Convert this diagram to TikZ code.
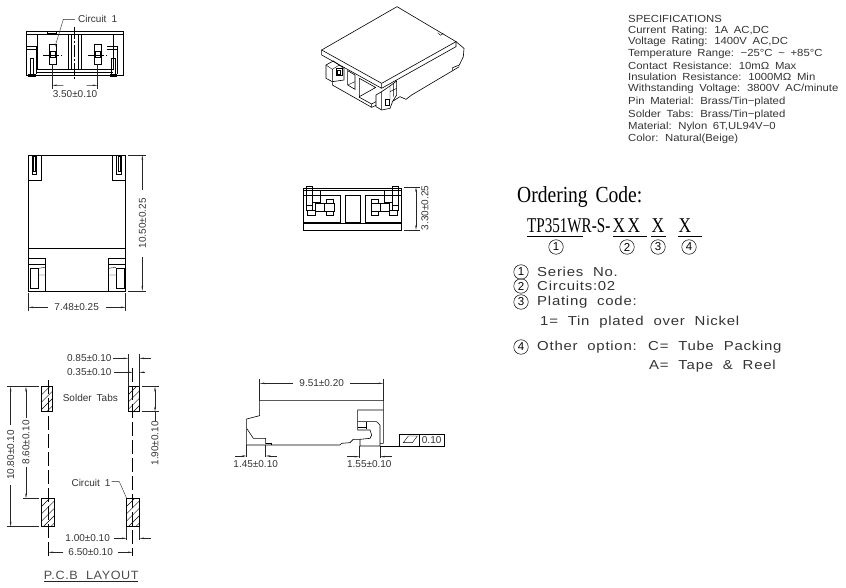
\documentclass[tikz,border=0pt]{standalone}
\usepackage{fontspec}
\usetikzlibrary{arrows.meta}
\setmainfont{Liberation Sans}[WordSpace=1.8]
\newfontfamily\cadfont{Liberation Sans}[WordSpace=2,LetterSpace=5]
\newfontfamily\ordfont{Liberation Serif}[WordSpace=1.6]
\colorlet{ink}{black!80}
\def\speclist{{31/{Current Rating: 1A AC,DC}}, {42/{Voltage Rating: 1400V AC,DC}}, {54/{Temperature Range: −25°C \textasciitilde{} +85°C}}, {66/{Contact Resistance: 10mΩ Max}}, {77/{Insulation Resistance: 1000MΩ Min}}, {89/{Withstanding Voltage: 3800V AC/minute}}, {102/{Pin Material: Brass/Tin−plated}}, {115/{Solder Tabs: Brass/Tin−plated}}, {127/{Material: Nylon 6T,UL94V−0}}, {139/{Color: Natural(Beige)}}}
\def\ballsA{{(556,247)/1}, {(627,247)/2}, {(658,247)/3}, {(689,247)/4}}
\def\notelist{{272/1/Series No.}, {286/2/Circuits:02}, {302/3/Plating code:}, {347/4/Other option: C= Tube Packing}}
\tikzstyle{part} = [draw=black, line width=0.6pt, line join=miter]
\tikzstyle{thin part} = [draw=black, line width=0.4pt]
\tikzstyle{axis} = [draw=black, line width=0.4pt, dash pattern=on 12pt off 2pt on 2pt off 2pt]
\tikzstyle{center dash} = [draw=black, line width=0.5pt, dash pattern=on 14pt off 4pt]
\tikzstyle{extn} = [draw=black!85, line width=0.4pt]
\tikzstyle{dimline} = [draw=black!85, line width=0.4pt, -{Stealth[length=5pt,width=1.6pt]}]
\tikzstyle{dimtext} = [inner sep=0pt, text=ink, font=\fontsize{10}{10}\selectfont]
\tikzstyle{spectext} = [inner sep=0pt, anchor=west, text=ink, xscale=1.1, font=\fontsize{10.3}{10}\selectfont]
\tikzstyle{notetext} = [inner sep=0pt, anchor=west, text=ink, xscale=1.15, font=\cadfont\fontsize{13}{13}\selectfont]
\tikzstyle{ordertext} = [inner sep=0pt, anchor=base west, text=black, font=\ordfont\fontsize{23}{24}\selectfont, xscale=0.85]
\tikzstyle{codetext} = [inner sep=0pt, anchor=base west, text=black, font=\ordfont\fontsize{21}{22}\selectfont, xscale=0.72]
\tikzstyle{ball} = [circle, draw=black, line width=0.5pt, minimum size=14.5pt, inner sep=0pt, font=\fontsize{11.5}{12}\selectfont]
\begin{document}
\begin{tikzpicture}[x=1pt,y=-1pt]
  \useasboundingbox (0,0) rectangle (846,588);

  % The front view, top left (zoomed coordinates)
  \begin{scope}[shift={(10,0)},scale=1/3]
    \path[part] (48,93) rectangle (340,225);
    \path[part] (48,104) -- (340,104);
    \path[thin part] (112,93) rectangle (138,100);
    \path[part] (82,104) -- (82,208) -- (175,208) -- (175,104);
    \path[part] (215,104) -- (215,208) -- (310,208) -- (310,104);
    \path[thin part] (185,104) -- (185,208) (205,104) -- (205,208);
    \path[part] (78,208) -- (310,208) (78,218) -- (310,218);
    \foreach \side in {48,292} {
      \begin{scope}[shift={(\side,0)}]
        \path[part] (0,138) -- (30,138) -- (30,222) (0,148) -- (30,148);
        \path[thin part] (13,175) rectangle (23,222) (8,222) rectangle (28,230);
      \end{scope}
    }
    \foreach \pin in {128,263} {
      \path[thin part] (\pin-10,132) rectangle (\pin+10,192);
      \path[part] (\pin-7,155) rectangle (\pin+7,172);
      \path[axis] (\pin-28,165) -- (\pin+28,165);
    }
    \path[axis] (193,80) -- (193,236);
    \path[extn] (127,192) -- (127,268) (262,192) -- (262,268);
    \coordinate (fv-l) at (127,256);
    \coordinate (fv-r) at (262,256);
    \path[dimline] (160,256) -- (fv-l);
    \path[dimline] (230,256) -- (fv-r);
    \node[dimtext] (fv-dim) at (195,282) {3.50±0.10};
    \node[dimtext, anchor=west] (fv-circ) at (204,58) {Circuit 1};
    \path[extn] (195,58) -- (160,58) -- (135,140);
  \end{scope}

  % The isometric view
  \begin{scope}[shift={(300,0)},scale=1/3]
    \path[part] (291,20) -- (468,125) -- (245,250) -- (65,150) -- cycle;
    \path[part] (65,150) -- (65,165) -- (245,265) -- (468,140) -- (468,125) (245,250) -- (245,265);
    \path[thin part] (413,98) -- (422,106) -- (430,100);
    % right side of the body
    \path[part] (468,125) -- (492,145) -- (490,170) -- (478,195) -- (458,203) -- (458,212) -- (478,200);
    \path[part] (458,212) -- (335,285) -- (318,298) -- (300,290) -- (278,304) -- (270,325) -- (245,330) -- (228,320) -- (228,285) -- (245,275) -- (270,258) -- (290,243) -- (290,285) -- (278,304);
    \path[thin part] (270,258) -- (270,300) (280,250) -- (280,290) (270,275) -- (290,265) (245,275) -- (245,330);
    \path[thin part] (256,298) rectangle (268,315);
    % the open end with its windows
    \path[part] (78,195) -- (100,183) -- (132,205) -- (132,240) -- (97,245) -- (78,235) -- cycle;
    \path[thin part] (78,195) -- (97,208) -- (97,245) (97,208) -- (118,195);
    \path[thin part] (108,205) rectangle (126,226) (112,210) rectangle (122,222);
    \path[part] (143,212) -- (165,225) -- (165,268) -- (143,255) -- cycle;
    \path[thin part] (143,255) -- (165,245);
    \path[part] (178,235) -- (228,263) (178,235) -- (178,290) -- (228,262);
    \path[part] (97,245) -- (97,255) -- (215,322) -- (228,316);
    \path[part] (178,290) -- (178,292) -- (215,312) -- (215,322) (215,312) -- (228,305);
  \end{scope}

  % The view from below with the tabs
  \begin{scope}[shift={(10,140)},scale=1/3]
    \path[part] (55,45) rectangle (347,453);
    \path[part] (55,325) -- (347,325);
    \path[part] (55,120) -- (95,120) -- (95,45) (347,120) -- (307,120) -- (307,45);
    \path[thin part] (67,45) rectangle (80,103) (70,50) rectangle (77,95);
    \path[thin part] (320,45) rectangle (335,103) (324,50) rectangle (331,95);
    \path[part] (55,355) -- (107,355) -- (107,453) (347,355) -- (295,355) -- (295,453);
    \path[thin part] (55,372) -- (107,372) (295,372) -- (347,372);
    \path[part] (60,385) rectangle (85,445) (318,385) rectangle (343,445);
    \path[thin part] (85,405) -- (107,405) (85,385) -- (107,382) (295,405) -- (318,405) (295,385) -- (318,382);
    \path[extn] (355,45) -- (408,45) (355,453) -- (408,453);
    \path[extn] (55,460) -- (55,512) (347,460) -- (347,512);
    \node[dimtext, rotate=90] (tv-h) at (397,250) {10.50±0.25};
    \node[dimtext] (tv-w) at (200,502) {7.48±0.25};
    \path[dimline] (397,150) -- (397,45);
    \path[dimline] (397,350) -- (397,453);
    \path[dimline] (115,502) -- (55,502);
    \path[dimline] (288,502) -- (347,502);
  \end{scope}

  % The end view
  \begin{scope}[shift={(290,175)},scale=1/3]
    \path[part] (40,40) rectangle (335,165);
    \path[part] (40,45) -- (335,45) (40,145) -- (335,145);
    \path[part] (165,62) rectangle (210,142);
    \foreach \mirr/\move in {1/0,-1/375} {
      \begin{scope}[shift={(\move,0)},xscale=\mirr]
        \path[part] (40,60) -- (150,60) -- (150,142) -- (40,142);
        \path[part] (50,35) rectangle (68,105) (68,45) rectangle (92,82);
        \path[thin part] (50,45) -- (68,45) (50,62) -- (92,62) (50,92) -- (68,92);
        \path[part] (52,105) rectangle (76,120) (76,85) rectangle (104,108) (104,85) rectangle (132,108);
        \path[part] (110,72) rectangle (130,85) (110,108) rectangle (130,120);
      \end{scope}
    }
  \end{scope}
  \path[extn] (404,187) -- (420,187) (404,230) -- (420,230);
  \coordinate (ev-t) at (416,187);
  \coordinate (ev-m) at (416,208);
  \coordinate (ev-b) at (416,230);
  \path[dimline] (ev-m) -- (ev-t);
  \path[dimline] (ev-m) -- (ev-b);
  \node[dimtext, rotate=90] (ev-dim) at (425,208) {3.30±0.25};

  % The pcb layout
  \begin{scope}[shift={(0,345)},scale=1/3]
    \foreach \xa/\ya/\xb/\yb in {125/125/158/200, 385/125/418/200, 125/460/163/545, 380/460/418/545} {
      \begin{scope}
        \clip (\xa,\ya) rectangle (\xb,\yb);
        \foreach \hatch in {0,22,...,200}
          \path[thin part] (\xa-20,\ya+\hatch) -- (\xa+100,\ya+\hatch-120);
      \end{scope}
      \path[part] (\xa,\ya) rectangle (\xb,\yb);
    }
    \path[center dash] (145,105) -- (145,632);
    \path[center dash] (398,70) -- (398,632);
    % dimensions above the pads
    \path[extn] (385,28) -- (385,125) (418,28) -- (418,125);
    \node[dimtext] (pcb-a) at (268,40) {0.85±0.10};
    \node[dimtext] (pcb-b) at (268,82) {0.35±0.10};
    \path[dimline] (340,40) -- (385,40);
    \path[dimline] (452,40) -- (418,40);
    \path[dimline] (342,82) -- (398,82);
    \path[dimline] (435,82) -- (418,82);
    % dimensions on the left
    \path[extn] (20,125) -- (118,125) (20,545) -- (118,545) (68,460) -- (118,460);
    \node[dimtext, rotate=90] (pcb-c) at (32,330) {10.80±0.10};
    \node[dimtext, rotate=90] (pcb-d) at (78,292) {8.60±0.10};
    \path[dimline] (32,240) -- (32,125);
    \path[dimline] (32,420) -- (32,545);
    \path[dimline] (78,220) -- (78,125);
    \path[dimline] (78,365) -- (78,460);
    % dimensions on the right
    \path[extn] (425,125) -- (478,125) (425,200) -- (478,200);
    \node[dimtext, rotate=90] (pcb-e) at (465,295) {1.90±0.10};
    \path[dimline] (465,165) -- (465,125);
    \path[dimline] (465,165) -- (465,200);
    \path[extn] (465,200) -- (465,228);
    % dimensions below the pads
    \path[extn] (380,545) -- (380,585) (418,545) -- (418,585);
    \node[dimtext] (pcb-f) at (263,580) {1.00±0.10};
    \node[dimtext] (pcb-g) at (272,622) {6.50±0.10};
    \path[dimline] (342,580) -- (380,580);
    \path[dimline] (452,580) -- (418,580);
    \path[dimline] (190,622) -- (145,622);
    \path[dimline] (355,622) -- (398,622);
    % the labels
    \node[dimtext] (pcb-tabs) at (271,160) {Solder Tabs};
    \node[dimtext] (pcb-circ) at (273,415) {Circuit 1};
    \path[extn] (335,410) -- (358,410) -- (380,460);
    \node[dimtext, font=\cadfont\fontsize{12}{12}\selectfont, xscale=1.05, text=black!70] (pcb-title) at (274,692) {P.C.B LAYOUT};
    \path[extn] (133,710) -- (415,710);
  \end{scope}

  % The side view with the flatness box
  \begin{scope}[shift={(225,370)},scale=1/3]
    \path[part] (122,222) -- (122,205) -- (85,205) -- (65,175) (65,225) -- (65,147) -- (104,137) -- (104,92) -- (475,92) -- (475,220) -- (465,220);
    \path[part] (65,225) -- (122,225) -- (345,225) -- (350,220) -- (375,218) -- (385,208) -- (405,208) -- (435,205) -- (440,195) -- (435,180) -- (398,180) -- (398,120) -- (475,120);
    \path[part] (398,155) -- (455,155) -- (465,165) -- (465,228) -- (405,228) -- (405,208);
    \path[part] (425,155) -- (425,178) (398,172) -- (425,172);
    \path[part] (122,220) -- (138,220) -- (138,225);
    \path[extn] (104,28) -- (104,92) (475,28) -- (475,92);
    \node[dimtext] (sv-w) at (290,40) {9.51±0.20};
    \path[dimline] (205,40) -- (104,40);
    \path[dimline] (375,40) -- (475,40);
    \path[extn] (65,225) -- (65,262) (122,225) -- (122,262);
    \path[dimline] (30,258) -- (65,258);
    \path[dimline] (155,258) -- (122,258);
    \node[dimtext] (sv-a) at (92,281) {1.45±0.10};
    \path[extn] (403,228) -- (403,265) (465,228) -- (465,265);
    \path[dimline] (367,260) -- (403,260);
    \path[dimline] (500,260) -- (465,260);
    \node[dimtext] (sv-b) at (433,283) {1.55±0.10};
    \path[part] (465,228) -- (523,228);
    \path[part] (523,192) rectangle (583,228) (583,192) rectangle (657,228);
    \path[thin part] (535,218) -- (550,198) -- (577,198) -- (562,218) -- cycle;
    \node[dimtext] (sv-flat) at (620,210) {0.10};
  \end{scope}

  % The specifications
  \node[spectext] (spec-head) at (628,19) {SPECIFICATIONS};
  \foreach \ypos/\line [count=\i] in \speclist
    \node[spectext] (spec-\i) at (628,\ypos) {\line};

  % The ordering code
  \node[ordertext] (order-head) at (517,203) {Ordering Code:};
  \node[codetext] (order-code) at (527,233) {TP351WR-S-};
  \foreach \xpos/\name in {619/a,634/b,658/c,685/d}
    \node[codetext, anchor=base, xscale=1.15] (order-\name) at (\xpos,233) {X};
  \foreach \xa/\xb in {527/583, 613/647, 651/666, 678/702}
    \path[part] (\xa,236) -- (\xb,236);
  \foreach \pos/\name in \ballsA
    \node[ball] (ball-\name) at \pos {\name};
  \foreach \ypos/\name/\note in \notelist {
    \node[ball] (note-\name) at (521,\ypos) {\name};
    \node[notetext] (text-\name) at (537,\ypos) {\note};
  }
  \node[notetext] (text-tin) at (540,322) {1= Tin plated over Nickel};
  \node[notetext] (text-tape) at (649,366) {A= Tape \& Reel};
\end{tikzpicture}
\end{document}
